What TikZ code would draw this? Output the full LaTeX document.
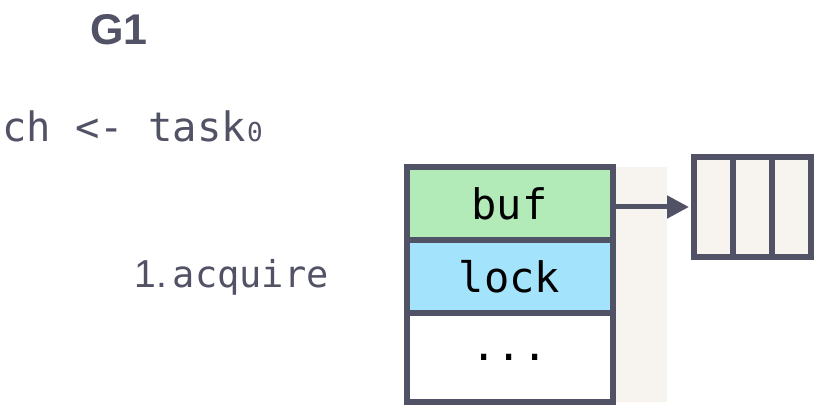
\documentclass[tikz,border=0pt]{standalone}
\usepackage{fontspec}
\setmonofont{DejaVu Sans Mono}
\setsansfont{Liberation Sans}
\usetikzlibrary{arrows.meta}
\definecolor{ink}{RGB}{82,82,102}
\definecolor{bufgreen}{RGB}{179,235,184}
\definecolor{lockblue}{RGB}{163,227,252}
\definecolor{paper}{RGB}{247,244,239}

\begin{document}
\begin{tikzpicture}[x=1pt,y=-1pt,
  cell/.style={draw=ink, line width=6pt, minimum width=206pt, inner sep=0pt, font=\ttfamily\fontsize{42}{44}\selectfont},
  slot/.style={draw=ink, fill=paper, line width=6pt, minimum width=39pt, minimum height=100pt, inner sep=0pt},
  label/.style={text=ink, inner sep=0pt}]

\useasboundingbox (0,0) rectangle (815,406);

% sombra detras del canal
\fill[paper] (612,167) rectangle (667,402);

\path
  node[label, font=\sffamily\bfseries\fontsize{43}{45}\selectfont] (g1) at (119,30) {G1}
  node[label, anchor=base west, font=\ttfamily\fontsize{40.5}{42}\selectfont] (send) at (2,142) {ch <- task\kern1pt{\fontsize{26}{28}\selectfont 0}}
  node[label, anchor=base east, font=\ttfamily\fontsize{37}{40}\selectfont] (acq) at (329,288) {{\sffamily\fontsize{39}{40}\selectfont 1.}\hspace{6pt}acquire}
  % hchan
  node[cell, fill=bufgreen, minimum height=73pt] (buf) at (509.5,203.5) {buf}
  node[cell, fill=lockblue, minimum height=73pt] (lock) at (509.5,276.5) {lock}
  node[cell, fill=white, minimum height=89pt] (rest) at (509.5,357.5) {...}
  % buffer circular
  node[slot] (s1) at (713.5,207) {}
  node[slot] (s2) at (752.5,207) {}
  node[slot] (s3) at (791.5,207) {};

\begin{scope}[-{Triangle[length=22pt,width=22pt]}]
	% buf apunta al buffer
	\draw[ink, line width=5pt, shorten >=2pt] (buf.east |- s1.west) -- (s1.west);
\end{scope}

\end{tikzpicture}
\end{document}
